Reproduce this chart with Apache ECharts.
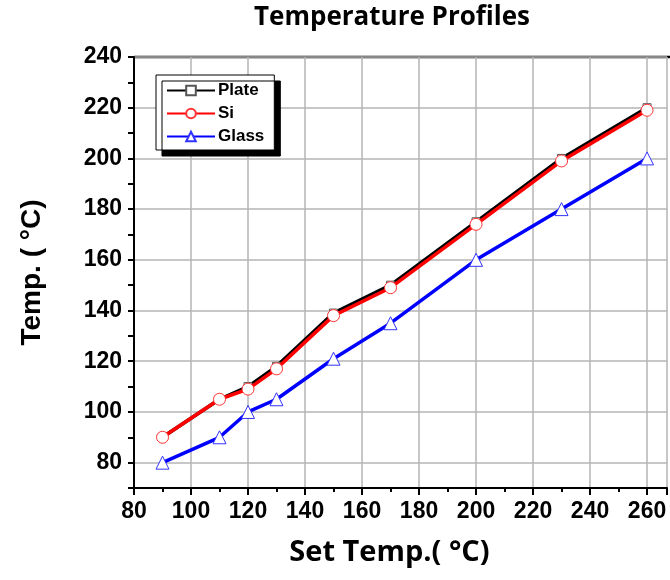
<!doctype html>
<html>
<head>
<meta charset="UTF-8">
<title>Temperature Profiles</title>
<style>
  html, body { margin: 0; padding: 0; background: #fff; }
  #chart { width: 670px; height: 580px; }
</style>
</head>
<body>
<div id="chart"></div>
<script src="https://cdn.jsdelivr.net/npm/echarts@6/dist/echarts.min.js"></script>
<script>
// set temperatures (x) and measured temperatures
var setTemp = [90, 110, 120, 130, 150, 170, 200, 230, 260];
var plate = [90, 105, 110, 118, 139, 150, 175, 200, 220];
var si    = [90, 105, 109, 117, 138, 149, 174, 199, 219];
var glass = [80, 90, 100, 105, 121, 135, 160, 180, 200];

function pairs(ys) {
  var out = [];
  for (var i = 0; i < setTemp.length; i++) out.push([setTemp[i], ys[i]]);
  return out;
}

var tickFont = { fontFamily: 'Liberation Sans', fontWeight: 'bold', fontSize: 23, color: '#000' };
var gridColor = '#b4b4b4';

var chart = echarts.init(document.getElementById('chart'));
chart.setOption({
  animation: false,
  backgroundColor: '#fff',
  title: {
    text: 'Temperature Profiles',
    left: 249,
    top: 0,
    textStyle: { fontFamily: 'Open Sans', fontWeight: 'bold', fontSize: 26, color: '#000' }
  },
  legend: {
    left: 156,
    top: 75,
    orient: 'vertical',
    itemWidth: 48,
    itemHeight: 12,
    itemGap: 6,
    padding: [7, 10, 5, 10],
    backgroundColor: '#fff',
    borderColor: '#000',
    borderWidth: 1,
    shadowColor: '#000',
    shadowBlur: 0,
    shadowOffsetX: 6,
    shadowOffsetY: 6,
    textStyle: { fontFamily: 'Liberation Sans', fontWeight: 'bold', fontSize: 17, color: '#000', padding: [0, 0, 0, -2] },
    data: ['Plate', 'Si', 'Glass']
  },
  grid: { left: 134, right: 0, top: 57, bottom: 92 },
  xAxis: {
    type: 'value',
    min: 80,
    max: 267,
    interval: 20,
    name: 'Set Temp.( °C)',
    nameLocation: 'middle',
    nameGap: 50,
    nameTextStyle: { fontFamily: 'Open Sans', fontWeight: 'bold', fontSize: 29, color: '#000', padding: [0, 22, 0, 0] },
    axisLine: { show: true, onZero: false, lineStyle: { color: '#000', width: 2 } },
    axisTick: { show: true, inside: false, length: 7, lineStyle: { color: '#000', width: 2 } },
    minorTick: { show: true, splitNumber: 2, length: 4, lineStyle: { color: '#000', width: 2 } },
    axisLabel: Object.assign({
      margin: 12,
      formatter: function (v) { return v <= 260 ? String(v) : ''; }
    }, tickFont),
    splitLine: { show: true, lineStyle: { color: gridColor, width: 1.5 } }
  },
  yAxis: {
    type: 'value',
    min: 70,
    max: 240,
    interval: 10,
    name: 'Temp. ( °C)',
    nameLocation: 'middle',
    nameGap: 88,
    nameTextStyle: { fontFamily: 'Liberation Sans', fontWeight: 'bold', fontSize: 28, color: '#000' },
    axisLine: { show: true, onZero: false, lineStyle: { color: '#000', width: 2 } },
    axisTick: { show: true, inside: false, length: 6, lineStyle: { color: '#000', width: 2 } },
    axisLabel: Object.assign({
      margin: 12,
      formatter: function (v) { return v % 20 === 0 ? String(v) : ''; }
    }, tickFont),
    // every other split line is hidden so the grid falls on 80, 100, ... 240
    splitLine: { show: true, lineStyle: { color: ['rgba(0,0,0,0)', gridColor], width: 1.5 } }
  },
  graphic: [{
    type: 'line',
    shape: { x1: 134, y1: 57, x2: 670, y2: 57 },
    style: { stroke: '#000', lineWidth: 2.5 }
  }],
  series: [{
    name: 'Plate',
    type: 'line',
    data: pairs(plate),
    symbol: 'rect',
    symbolSize: 8,
    lineStyle: { color: '#000', width: 3.5 },
    itemStyle: { color: '#fff', borderColor: '#555', borderWidth: 1 },
    z: 2
  }, {
    name: 'Si',
    type: 'line',
    data: pairs(si),
    symbol: 'circle',
    symbolSize: 12,
    lineStyle: { color: '#f00', width: 3.5 },
    itemStyle: { color: '#fff', borderColor: '#f33', borderWidth: 1 },
    z: 3
  }, {
    name: 'Glass',
    type: 'line',
    data: pairs(glass),
    symbol: 'triangle',
    symbolSize: 13,
    lineStyle: { color: '#00f', width: 3.5 },
    itemStyle: { color: '#fff', borderColor: '#33f', borderWidth: 1 },
    z: 4
  }]
});
</script>
</body>
</html>
